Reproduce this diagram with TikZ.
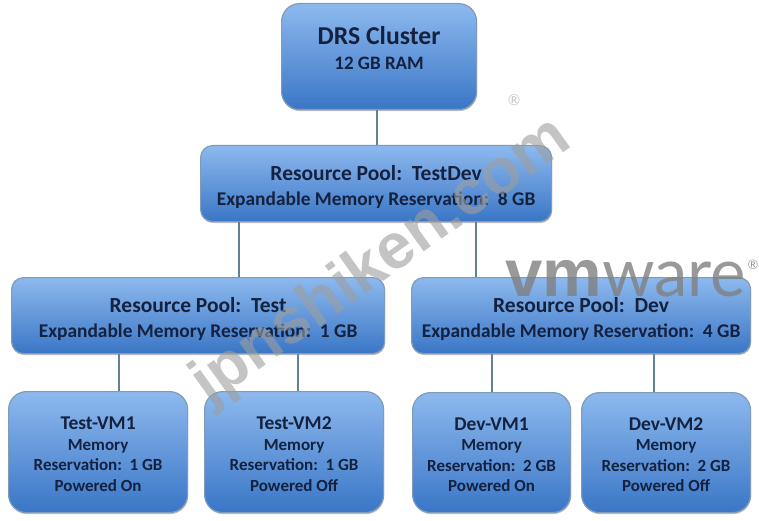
\documentclass[tikz,border=0pt]{standalone}
\usepackage{fontspec}
\setmainfont{Carlito}
\newfontfamily\logobold{Liberation Sans}
\newfontfamily\logolight{Lato}
\usetikzlibrary{shadows}
\definecolor{boxtop}{HTML}{8DB9EE}
\definecolor{boxmid}{HTML}{6CA2E4}
\definecolor{boxbot}{HTML}{3A76C6}
\definecolor{boxedge}{HTML}{7F9BB8}
\definecolor{wire}{HTML}{5F8296}
\definecolor{ink}{HTML}{14213F}
\newcommand{\fsz}[1]{\fontsize{#1}{#1}\selectfont}
\tikzset{
  x=1pt,y=-1pt,
  box/.style={draw=boxedge,line width=1.2pt,top color=boxtop,middle color=boxmid,bottom color=boxbot,
    rounded corners=#1,anchor=north west,align=center,text=ink,inner sep=0pt,font=\bfseries,
    drop shadow={shadow xshift=0.5pt,shadow yshift=-1.5pt,opacity=0.25,fill=black}},
  box/.default=12pt,
  drsbox/.style={box=18pt,font=\fontsize{19}{25}\selectfont\bfseries},
  poolbox/.style={box=12pt,font=\fontsize{19.4}{25}\selectfont\bfseries},
  vmbox/.style={box=18pt,font=\fontsize{17}{20.5}\selectfont\bfseries},
  wirelink/.style={draw=wire,line width=2.6pt},
  watermark/.style={text=black!38,opacity=0.6,inner sep=0pt,font=\logobold\bfseries\fontsize{64}{64}\selectfont},
}
\begin{document}
\begin{tikzpicture}
\useasboundingbox (0,0) rectangle (759,521);
\fill[white] (0,0) rectangle (759,521);
\node[drsbox,minimum width=195pt,minimum height=106pt] (drs) at (281,3)
  {{\fsz{25.7}DRS Cluster}\\12 GB RAM\\[-8pt]\mbox{}};
\node[poolbox,minimum width=351pt,minimum height=76pt] (testdev) at (200,145)
  {\rule{0pt}{22pt}{\fsz{21.5}Resource Pool:\ \ TestDev}\\Expandable Memory Reservation:\ \ 8 GB};
\node[poolbox,minimum width=373pt,minimum height=76pt] (test) at (11,277)
  {\rule{0pt}{22pt}{\fsz{21.5}Resource Pool:\ \ Test}\\Expandable Memory Reservation:\ \ 1 GB};
\node[poolbox,minimum width=339pt,minimum height=76pt] (dev) at (411,277)
  {\rule{0pt}{22pt}{\fsz{21.5}Resource Pool:\ \ Dev}\\Expandable Memory Reservation:\ \ 4 GB};
\node[vmbox,minimum width=179pt,minimum height=121pt] (vma) at (8,391)
  {\rule{0pt}{17pt}{\fsz{19.5}Test-VM1}\\{\fsz{17}Memory}\\Reservation:\ \ 1 GB\\Powered On};
\node[vmbox,minimum width=179pt,minimum height=121pt] (vmb) at (204,391)
  {\rule{0pt}{17pt}{\fsz{19.5}Test-VM2}\\{\fsz{17}Memory}\\Reservation:\ \ 1 GB\\Powered Off};
\node[vmbox,minimum width=158pt,minimum height=120pt] (vmc) at (412,392)
  {\rule{0pt}{17pt}{\fsz{19.5}Dev-VM1}\\{\fsz{17}Memory}\\Reservation:\ \ 2 GB\\Powered On};
\node[vmbox,minimum width=169pt,minimum height=120pt] (vmd) at (581,392)
  {\rule{0pt}{17pt}{\fsz{19.5}Dev-VM2}\\{\fsz{17}Memory}\\Reservation:\ \ 2 GB\\Powered Off};
\draw[wirelink] (drs.south -| 377,0) -- (testdev.north -| 377,0);
\draw[wirelink] (testdev.south -| 239,0) -- (test.north -| 239,0);
\draw[wirelink] (testdev.south -| 476,0) -- (dev.north -| 476,0);
\draw[wirelink] (test.south -| 119,0) -- (vma.north -| 119,0);
\draw[wirelink] (test.south -| 298,0) -- (vmb.north -| 298,0);
\draw[wirelink] (dev.south -| 492,0) -- (vmc.north -| 492,0);
\draw[wirelink] (dev.south -| 654,0) -- (vmd.north -| 654,0);
\node[watermark,rotate=35.5,anchor=center] (wm) at (382,262) {jpnshiken.com};
\node[watermark,font=\logolight\fontsize{15}{15}\selectfont] (wmreg) at (514,100) {®};
\node[watermark,anchor=base west,text=black!50,opacity=0.8,font=\logobold\bfseries\fsz{67}] (vmlogo) at (505,296)
  {vm{\logolight\mdseries ware}};
\node[watermark,text=black!50,opacity=0.8,font=\logolight\fsz{13}] (vmreg) at (753,265) {®};
\end{tikzpicture}
\end{document}
